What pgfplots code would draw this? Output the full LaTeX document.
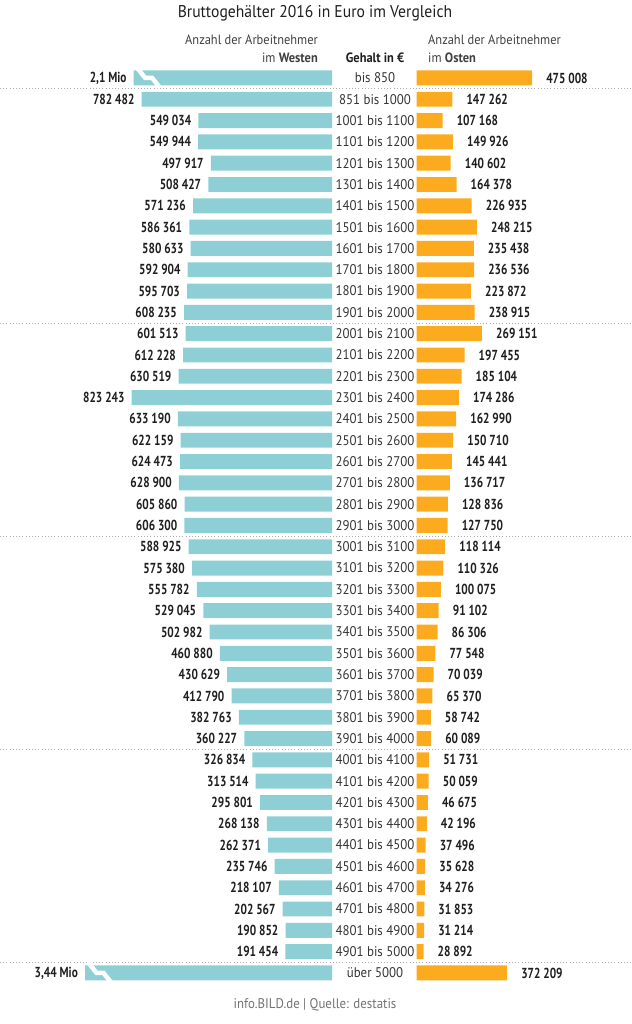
\documentclass[border=0pt]{standalone}
\usepackage{pgfplots}
\pgfplotsset{compat=1.18}
\usepackage{pgfplotstable}
\usepackage{fontspec}
\setmainfont{PT Sans}[FakeStretch=0.92]
\newfontfamily\valfam{PT Sans}[FakeStretch=0.78]
\definecolor{west}{RGB}{142,207,214}
\definecolor{ost}{RGB}{253,171,30}
\definecolor{txt}{RGB}{30,30,30}
\definecolor{sepc}{RGB}{170,170,170}

\pgfplotstableread[col sep=semicolon]{
i;cat;w;wl;o;ol
0;bis 850;815000;2,1 Mio;475008;475 008
1;851 bis 1000;782482;782 482;147262;147 262
2;1001 bis 1100;549034;549 034;107168;107 168
3;1101 bis 1200;549944;549 944;149926;149 926
4;1201 bis 1300;497917;497 917;140602;140 602
5;1301 bis 1400;508427;508 427;164378;164 378
6;1401 bis 1500;571236;571 236;226935;226 935
7;1501 bis 1600;586361;586 361;248215;248 215
8;1601 bis 1700;580633;580 633;235438;235 438
9;1701 bis 1800;592904;592 904;236536;236 536
10;1801 bis 1900;595703;595 703;223872;223 872
11;1901 bis 2000;608235;608 235;238915;238 915
12;2001 bis 2100;601513;601 513;269151;269 151
13;2101 bis 2200;612228;612 228;197455;197 455
14;2201 bis 2300;630519;630 519;185104;185 104
15;2301 bis 2400;823243;823 243;174286;174 286
16;2401 bis 2500;633190;633 190;162990;162 990
17;2501 bis 2600;622159;622 159;150710;150 710
18;2601 bis 2700;624473;624 473;145441;145 441
19;2701 bis 2800;628900;628 900;136717;136 717
20;2801 bis 2900;605860;605 860;128836;128 836
21;2901 bis 3000;606300;606 300;127750;127 750
22;3001 bis 3100;588925;588 925;118114;118 114
23;3101 bis 3200;575380;575 380;110326;110 326
24;3201 bis 3300;555782;555 782;100075;100 075
25;3301 bis 3400;529045;529 045;91102;91 102
26;3401 bis 3500;502982;502 982;86306;86 306
27;3501 bis 3600;460880;460 880;77548;77 548
28;3601 bis 3700;430629;430 629;70039;70 039
29;3701 bis 3800;412790;412 790;65370;65 370
30;3801 bis 3900;382763;382 763;58742;58 742
31;3901 bis 4000;360227;360 227;60089;60 089
32;4001 bis 4100;326834;326 834;51731;51 731
33;4101 bis 4200;313514;313 514;50059;50 059
34;4201 bis 4300;295801;295 801;46675;46 675
35;4301 bis 4400;268138;268 138;42196;42 196
36;4401 bis 4500;262371;262 371;37496;37 496
37;4501 bis 4600;235746;235 746;35628;35 628
38;4601 bis 4700;218107;218 107;34276;34 276
39;4701 bis 4800;202567;202 567;31853;31 853
40;4801 bis 4900;190852;190 852;31214;31 214
41;4901 bis 5000;191454;191 454;28892;28 892
42;über 5000;1015000;3,44 Mio;372209;372 209
}\data

\newcommand{\valfont}{\valfam\fontsize{14.5}{14.5}\selectfont\bfseries}
\newcommand{\catfont}{\fontsize{14}{14}\selectfont}
% break mark at bar end (#1 = value, #2 = row)
\newcommand{\brk}[2]{%
  \draw[white, line width=4.5pt, line join=miter] ([shift={(4pt,9.5pt)}]axis cs:#1,#2) -- ([shift={(11.5pt,0pt)}]axis cs:#1,#2) -- ([shift={(18.5pt,0pt)}]axis cs:#1,#2) -- ([shift={(26pt,-9.5pt)}]axis cs:#1,#2);
}

\begin{document}
\begin{tikzpicture}
\useasboundingbox (0pt,0pt) rectangle (631pt,1024pt);
% Title and headers
\node[font=\fontsize{17}{17}\selectfont, text=txt] at (315pt,1011pt) {Bruttogehälter 2016 in Euro im Vergleich};
\node[font=\fontsize{13.5}{13.5}\selectfont, text=txt!85, anchor=east, inner sep=0] at (318pt,984pt) {Anzahl der Arbeitnehmer};
\node[font=\fontsize{13.5}{13.5}\selectfont, text=txt!85, anchor=east, inner sep=0] at (318pt,966pt) {im \textbf{Westen}};
\node[font=\fontsize{13.5}{13.5}\selectfont\bfseries, text=txt, inner sep=0] at (375pt,966pt) {Gehalt in €};
\node[font=\fontsize{13.5}{13.5}\selectfont, text=txt!85, anchor=west, inner sep=0] at (428pt,984pt) {Anzahl der Arbeitnehmer};
\node[font=\fontsize{13.5}{13.5}\selectfont, text=txt!85, anchor=west, inner sep=0] at (428pt,966pt) {im \textbf{Osten}};
\node[font=\fontsize{14}{14}\selectfont, text=black!55] at (315pt,19pt) {info.BILD.de | Quelle: destatis};

% West (left)
\begin{axis}[
  at={(332pt,956.7pt)}, anchor=north east,
  scale only axis, width=332pt, height=916.3pt,
  xbar, bar width=0.7, x dir=reverse,
  xmin=0, xmax=1364520,
  ymin=-0.5, ymax=42.5, y dir=reverse,
  hide axis, clip=false,
  nodes near coords, point meta=explicit symbolic,
  every node near coord/.append style={anchor=east, xshift=-7pt, inner sep=0pt, font=\valfont, text=txt},
]
\pgfplotsinvokeforeach{0.5,11.5,21.5,31.5,41.5}{
  \draw[sepc, line width=0.8pt, dash pattern=on 1pt off 2.2pt] (axis cs:1364520,#1) -- (axis cs:-1228890,#1);
}
\addplot[fill=west, draw=none] table[x=w, y=i, meta=wl]{\data};
\brk{815000}{0}
\brk{1015000}{42}
\end{axis}

% Ost (right)
\begin{axis}[
  at={(416.5pt,956.7pt)}, anchor=north west,
  scale only axis, width=214.5pt, height=916.3pt,
  xbar, bar width=0.7,
  xmin=0, xmax=881595,
  ymin=-0.5, ymax=42.5, y dir=reverse,
  clip=false,
  axis line style={draw=none},
  xtick=\empty, ytick={0,...,42},
  yticklabels from table={\data}{cat},
  ytick style={draw=none},
  major tick length=0pt,
  yticklabel style={anchor=center, xshift=-41.5pt, font=\catfont, text=txt!90, inner sep=0pt},
  nodes near coords, point meta=explicit symbolic,
  every node near coord/.append style={anchor=west, xshift=14pt, inner sep=0pt, font=\valfont, text=txt},
]
\addplot[fill=ost, draw=none] table[x=o, y=i, meta=ol]{\data};
\end{axis}
\end{tikzpicture}
\end{document}
